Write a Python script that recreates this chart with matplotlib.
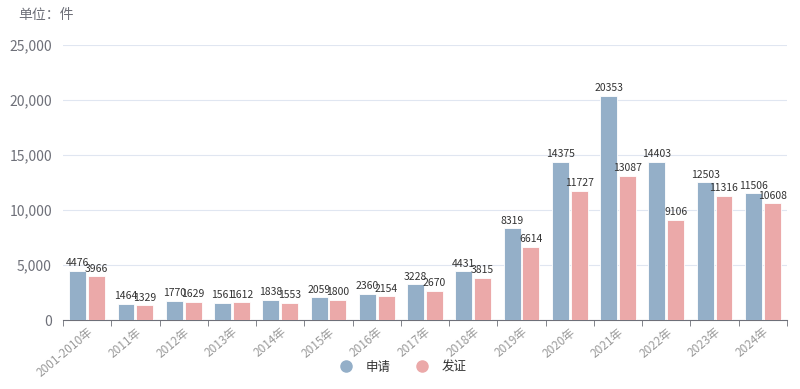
import matplotlib
matplotlib.use("Agg")
import matplotlib.pyplot as plt
import numpy as np
from matplotlib.ticker import FuncFormatter, MultipleLocator
from matplotlib.lines import Line2D

plt.rcParams['font.family'] = ['Noto Sans CJK SC', 'DejaVu Sans']

categories = ["2001-2010年", "2011年", "2012年", "2013年", "2014年", "2015年", "2016年",
              "2017年", "2018年", "2019年", "2020年", "2021年", "2022年", "2023年", "2024年"]
apply_vals = [4476, 1464, 1770, 1561, 1838, 2059, 2360, 3228, 4431, 8319, 14375, 20353, 14403, 12503, 11506]
grant_vals = [3966, 1329, 1629, 1612, 1553, 1800, 2154, 2670, 3815, 6614, 11727, 13087, 9106, 11316, 10608]
series_names = ["申请", "发证"]
colors = ["#94AFC8", "#EBA9A9"]

fig = plt.figure(figsize=(8, 3.89), dpi=100)
ax = fig.add_axes([63/800, 1 - 320/389, (787-63)/800, (320-45)/389])

n = len(categories)
x = np.arange(n)
w = 0.35
gap = 0.02
b1 = ax.bar(x - w/2 - gap, apply_vals, width=w, color=colors[0], edgecolor='white', linewidth=0.6, zorder=3)
b2 = ax.bar(x + w/2 + gap, grant_vals, width=w, color=colors[1], edgecolor='white', linewidth=0.6, zorder=3)

for bars, vals in ((b1, apply_vals), (b2, grant_vals)):
    for r, v in zip(bars, vals):
        ax.text(r.get_x() + r.get_width()/2, v + 250, str(v), ha='center', va='bottom',
                fontsize=7.5, color='#333333', zorder=4)

ax.set_xlim(-0.5, n - 0.5)
ax.set_ylim(0, 25000)
ax.yaxis.set_major_locator(MultipleLocator(5000))
ax.yaxis.set_major_formatter(FuncFormatter(lambda v, p: f"{int(v):,}"))
ax.grid(axis='y', color='#E0E6F1', linewidth=0.8, zorder=0)
for s in ['top', 'right', 'left']:
    ax.spines[s].set_visible(False)
ax.spines['bottom'].set_color('#6E7079')
ax.tick_params(axis='y', length=0, labelsize=10, labelcolor='#6E7079', pad=8)

ax.set_xticks(x)
ax.set_xticklabels(categories, rotation=40, ha='right', rotation_mode='anchor',
                   fontsize=8.5, color='#9a9a9a')
ax.tick_params(axis='x', length=0, pad=4)
ax.set_xticks(np.arange(-0.5, n, 1), minor=True)
ax.tick_params(axis='x', which='minor', length=4, color='#6E7079', direction='out')

fig.text(18/800, 1 - 15/389, "单位：件", fontsize=10, color='#6E7079', va='center', ha='left')

handles = [Line2D([0], [0], marker='o', linestyle='none', markersize=8,
                  markerfacecolor=c, markeredgecolor=c) for c in colors]
fig.legend(handles, series_names, loc='center', bbox_to_anchor=(0.5, 1 - 367/389),
           ncol=2, frameon=False, fontsize=9, handletextpad=0.6, columnspacing=1.5,
           labelcolor='#333333')

fig.savefig("out.png", dpi=100)
